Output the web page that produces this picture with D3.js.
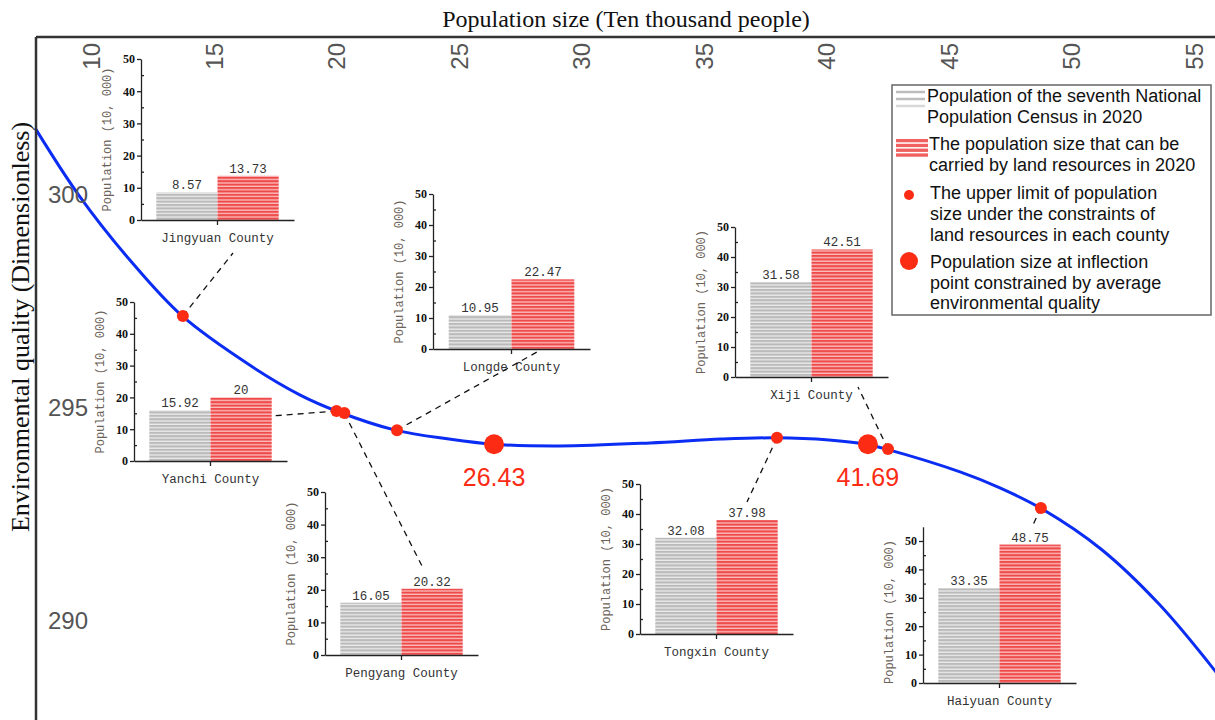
<!DOCTYPE html>
<html lang="en">
<head>
<meta charset="UTF-8">
<title>Environmental quality and population size</title>
<script src="https://cdn.jsdelivr.net/npm/d3@7"></script>
<style>
  body { margin: 0; background: #fff; }
  svg { display: block; }
</style>
</head>
<body>
<script>
// fitted curve (population in 10,000 people / env quality)
const curvePop = [7.7, 9.5, 11.6, 13.7, 16.5, 18.5, 20.0, 22.4, 24.6, 26.4, 29.1, 32.8, 35.7, 37.9, 40.1, 41.6, 42.4, 45.45, 47.1, 48.8, 51.2, 53.6, 55.9];
const curveEnv = [301.57, 299.98, 298.45, 297.16, 295.99, 295.31, 294.93, 294.48, 294.27, 294.15, 294.11, 294.18, 294.27, 294.30, 294.25, 294.15, 294.04, 293.50, 293.12, 292.63, 291.69, 290.38, 288.80];

// counties, sorted by carrying capacity
const counties  = ['Jingyuan', 'Yanchi', 'Pengyang', 'Longde', 'Tongxin', 'Xiji', 'Haiyuan'];
const censusPop = [8.57, 15.92, 16.05, 10.95, 32.08, 31.58, 33.35];
const carryPop  = [13.73, 20, 20.32, 22.47, 37.98, 42.51, 48.75];
const countyEnv = [297.16, 294.93, 294.88, 294.48, 294.30, 294.04, 292.65];

const inflectionPop = [26.43, 41.69];
const inflectionEnv = [294.15, 294.15];

const xTicks = [10, 15, 20, 25, 30, 35, 40, 45, 50, 55];
const yTicks = [290, 295, 300];
const insetTicks = [0, 10, 20, 30, 40, 50];
const insetMinor = [5, 15, 25, 35, 45];

const legendText = [
  ['Population of the seventh National', 'Population Census in 2020'],
  ['The population size that can be', 'carried by land resources in 2020'],
  ['The upper limit of population', 'size under the constraints of', 'land resources in each county'],
  ['Population size at inflection', 'point constrained by average', 'environmental quality']
];

// where each small bar chart sits on the page
const insetLayout = [
  { x0: 141, yTop: 59,  yBot: 220, w: 153, max: 50, end: [233, 253] },
  { x0: 134, yTop: 302, yBot: 461, w: 153, max: 50, end: [272, 416] },
  { x0: 325, yTop: 492, yBot: 655, w: 153, max: 50, end: [423, 568] },
  { x0: 433, yTop: 194, yBot: 349, w: 157, max: 50, end: [537, 352] },
  { x0: 640, yTop: 484, yBot: 634, w: 153, max: 50, end: [747, 502] },
  { x0: 735, yTop: 227, yBot: 377, w: 153, max: 50, end: [858, 387] },
  { x0: 923, yTop: 541, yBot: 683, w: 153, max: 55, end: [1032, 527] }
];

const W = 1215, H = 720;
const mLeft = 36, mTop = 37;
const RED = '#fb2b14', BLUE = '#0b2cf2';

const svg = d3.select('body').append('svg')
  .attr('width', W).attr('height', H)
  .style('background', '#fff');

const defs = svg.append('defs');
function stripes(id, base, line) {
  const p = defs.append('pattern').attr('id', id)
    .attr('patternUnits', 'userSpaceOnUse')
    .attr('width', 10).attr('height', 3.4);
  p.append('rect').attr('width', 10).attr('height', 3.4).attr('fill', base);
  p.append('rect').attr('y', 2.1).attr('width', 10).attr('height', 1.3).attr('fill', line);
}
stripes('greyStripe', '#bababa', '#ececec');
stripes('redStripe', '#ef4a4a', '#fbc0c0');

const x = d3.scaleLinear().domain([10, 55]).range([91.5, 1194]);
const y = d3.scaleLinear().domain([290, 300]).range([621, 195]);

// ---- small bar charts ----
counties.forEach((c, i) => {
  const L = insetLayout[i];
  const g = svg.append('g');
  const yi = d3.scaleLinear().domain([0, 50]).range([L.yBot, L.yTop]);
  const yAx = yi.copy().domain([0, L.max]).range([yi(0), yi(L.max)]);
  const outer = d3.scaleBand().domain([c + ' County']).range([L.x0, L.x0 + L.w])
    .paddingInner(0).paddingOuter(0.125);
  const inner = d3.scaleBand().domain(['census', 'carry'])
    .range([outer(c + ' County'), outer(c + ' County') + outer.bandwidth()]);

  const vals = [{ k: 'census', v: censusPop[i] }, { k: 'carry', v: carryPop[i] }];

  g.selectAll('rect.bar').data(vals).join('rect')
    .attr('class', 'bar')
    .attr('x', d => inner(d.k))
    .attr('width', inner.bandwidth())
    .attr('y', d => yi(d.v))
    .attr('height', d => yi(0) - yi(d.v))
    .attr('fill', d => d.k === 'census' ? 'url(#greyStripe)' : 'url(#redStripe)');

  g.selectAll('text.val').data(vals).join('text')
    .attr('class', 'val')
    .attr('x', d => inner(d.k) + inner.bandwidth() / 2)
    .attr('y', d => yi(d.v) - 3)
    .attr('text-anchor', 'middle')
    .style('font', '12.5px "Liberation Mono", monospace')
    .style('fill', '#333')
    .text(d => String(d.v));

  const ay = g.append('g').attr('transform', `translate(${L.x0},0)`)
    .call(d3.axisLeft(yAx).tickValues(insetTicks).tickSize(4).tickSizeOuter(0).tickPadding(2));
  ay.append('g').call(d3.axisRight(yAx).tickValues(insetMinor).tickSize(3).tickFormat(''))
    .select('.domain').remove();
  ay.selectAll('text').style('font', 'bold 12px "Liberation Serif", serif').style('fill', '#111');

  const ax = g.append('g').attr('transform', `translate(0,${L.yBot})`)
    .call(d3.axisBottom(outer).tickSize(5).tickSizeOuter(0).tickPadding(8));
  ax.selectAll('text').style('font', '12.5px "Liberation Mono", monospace').style('fill', '#333');

  g.selectAll('path.domain, .tick line').attr('stroke', '#222').attr('stroke-width', 1.3);

  g.append('text')
    .attr('transform', `translate(${L.x0 - 30},${(L.yTop + L.yBot) / 2}) rotate(-90)`)
    .attr('text-anchor', 'middle')
    .style('font', '12px "Liberation Mono", monospace')
    .style('fill', '#6b6259')
    .text('Population (10, 000)');
});

// ---- dashed leaders from the curve to each bar chart ----
svg.append('g').selectAll('line').data(counties).join('line')
  .attr('x1', (d, i) => x(carryPop[i]))
  .attr('y1', (d, i) => y(countyEnv[i]))
  .attr('x2', (d, i) => insetLayout[i].end[0])
  .attr('y2', (d, i) => insetLayout[i].end[1])
  .attr('stroke', '#111').attr('stroke-width', 1.3)
  .attr('stroke-dasharray', '6,5');

// ---- curve ----
const line = d3.line()
  .x(d => x(d[0])).y(d => y(d[1]))
  .curve(d3.curveCatmullRom.alpha(0.5));
svg.append('path')
  .datum(curvePop.map((p, i) => [p, curveEnv[i]]))
  .attr('d', line)
  .attr('fill', 'none').attr('stroke', BLUE).attr('stroke-width', 3);

svg.append('g').selectAll('circle').data(counties).join('circle')
  .attr('cx', (d, i) => x(carryPop[i]))
  .attr('cy', (d, i) => y(countyEnv[i]))
  .attr('r', 6).attr('fill', RED);

svg.append('g').selectAll('circle').data(inflectionPop).join('circle')
  .attr('cx', d => x(d))
  .attr('cy', (d, i) => y(inflectionEnv[i]))
  .attr('r', 10).attr('fill', RED);

svg.append('g').selectAll('text').data(inflectionPop).join('text')
  .attr('x', d => x(d))
  .attr('y', (d, i) => y(inflectionEnv[i]) + 42)
  .attr('text-anchor', 'middle')
  .style('font', '25px "Liberation Sans", Arial, sans-serif')
  .style('fill', RED)
  .text(d => d.toFixed(2));

// ---- axes ----
const gx = svg.append('g').attr('transform', `translate(0,${mTop})`)
  .call(d3.axisTop(x).tickValues(xTicks).tickSize(0));
gx.select('.domain').remove();
gx.selectAll('text')
  .attr('x', 0).attr('y', 0).attr('dy', 0)
  .attr('transform', 'translate(8,6) rotate(-90)')
  .attr('text-anchor', 'end')
  .style('font', '24px "Liberation Sans", Arial, sans-serif')
  .style('fill', '#555');

const gy = svg.append('g').attr('transform', `translate(${mLeft},0)`)
  .call(d3.axisRight(y).tickValues(yTicks).tickSize(0).tickPadding(12));
gy.select('.domain').remove();
gy.selectAll('text')
  .style('font', '24px "Liberation Sans", Arial, sans-serif')
  .style('fill', '#555');

svg.append('line').attr('x1', mLeft).attr('x2', W).attr('y1', mTop).attr('y2', mTop)
  .attr('stroke', '#333').attr('stroke-width', 2.5);
svg.append('line').attr('x1', mLeft).attr('x2', mLeft).attr('y1', mTop).attr('y2', H)
  .attr('stroke', '#333').attr('stroke-width', 2.5);

svg.append('text')
  .attr('x', 626).attr('y', 27)
  .attr('text-anchor', 'middle')
  .style('font', '24px "Liberation Serif", "Times New Roman", serif')
  .style('fill', '#111')
  .text('Population size (Ten thousand people)');

svg.append('text')
  .attr('transform', 'translate(29,327) rotate(-90)')
  .attr('text-anchor', 'middle')
  .style('font', '26px "Liberation Serif", "Times New Roman", serif')
  .style('fill', '#111')
  .text('Environmental quality (Dimensionless)');

// ---- legend ----
const lg = svg.append('g');
lg.append('rect').attr('x', 892).attr('y', 85).attr('width', 319).attr('height', 230)
  .attr('fill', '#fff').attr('stroke', '#666').attr('stroke-width', 1.5);

const lineY = [[102, 123], [150, 171], [199, 220, 241], [268, 289, 309]];
const textX = [927, 929, 930, 930];
legendText.forEach((lines, k) => {
  lg.append('text')
    .style('font', '18px "Liberation Sans", Arial, sans-serif')
    .style('fill', '#111')
    .selectAll('tspan').data(lines).join('tspan')
    .attr('x', textX[k])
    .attr('y', (d, j) => lineY[k][j])
    .text(d => d);
});
// swatches
[0, 1, 2].forEach(j => lg.append('line')
  .attr('x1', 896).attr('x2', 925).attr('y1', 92 + j * 7).attr('y2', 92 + j * 7)
  .attr('stroke', j === 2 ? '#d8d8d8' : '#bdbdbd').attr('stroke-width', 2.5));
[0, 1, 2, 3].forEach(j => lg.append('rect')
  .attr('x', 896).attr('width', 32).attr('y', 139 + j * 4.8).attr('height', 3.3)
  .attr('fill', '#f06060'));
lg.append('circle').attr('cx', 909).attr('cy', 195).attr('r', 5).attr('fill', RED);
lg.append('circle').attr('cx', 909).attr('cy', 261).attr('r', 9).attr('fill', RED);
</script>
</body>
</html>
